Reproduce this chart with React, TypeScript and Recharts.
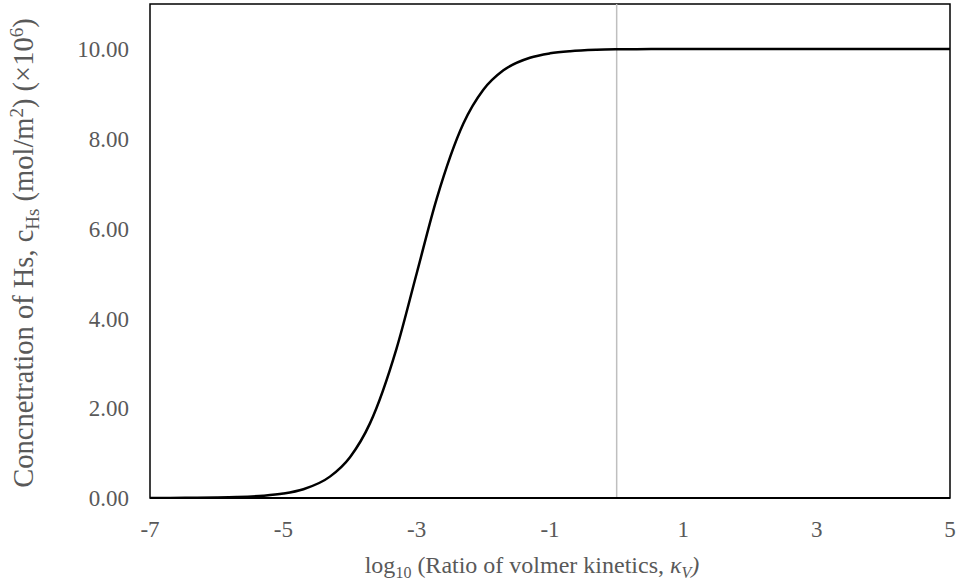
import React from 'react';
import { LineChart, Line, XAxis, YAxis, ReferenceLine, ReferenceArea } from 'recharts';

// log10 of the kinetics ratio (points at 1, 2, 5 x 10^n)
const logKappa = [
  -7, -6.699, -6.301, -6, -5.699, -5.301, -5, -4.699, -4.301, -4, -3.699, -3.301,
  -3, -2.699, -2.301, -2, -1.699, -1.301, -1, -0.699, -0.301, 0, 0.301, 0.699,
  1, 1.301, 1.699, 2, 2.301, 2.699, 3, 3.301, 3.699, 4, 4.301, 4.699, 5,
];
// concentration of Hs (x 10^6 mol/m2)
const cHs = [
  0.001, 0.002, 0.005, 0.01, 0.02, 0.05, 0.099, 0.196, 0.476, 0.909, 1.667, 3.333,
  5.0, 6.667, 8.333, 9.091, 9.524, 9.804, 9.901, 9.95, 9.98, 9.99, 9.995, 9.998,
  9.999, 10, 10, 10, 10, 10, 10, 10, 10, 10, 10, 10, 10,
];
const xTicks = [-7, -5, -3, -1, 1, 3, 5];
const yTicks = [0, 2, 4, 6, 8, 10];

const data = logKappa.map((x, i) => ({ x, c: cHs[i] }));

const FONT = '"Liberation Serif", "Times New Roman", serif';
const GREY = '#595959';

const XTitle = () => (
  <text x={532} y={573} textAnchor="middle" fontFamily={FONT} fontSize={24} fill={GREY}>
    log<tspan fontSize={16} dy={5}>10</tspan>
    <tspan dy={-5}> (Ratio of volmer kinetics, </tspan>
    <tspan fontStyle="italic">κ</tspan>
    <tspan fontStyle="italic" fontSize={16} dy={5}>V</tspan>
    <tspan fontStyle="italic" dy={-5}>)</tspan>
  </text>
);

const YTitle = () => (
  <text
    x={0}
    y={0}
    transform="translate(33, 253) rotate(-90)"
    textAnchor="middle"
    fontFamily={FONT}
    fontSize={28.5}
    fill={GREY}
  >
    Concnetration of Hs, c<tspan fontSize={19} dy={6}>Hs</tspan>
    <tspan dy={-6}> (mol/m</tspan>
    <tspan fontSize={19} dy={-10}>2</tspan>
    <tspan dy={10}>) (×10</tspan>
    <tspan fontSize={19} dy={-10}>6</tspan>
    <tspan dy={10}>)</tspan>
  </text>
);

export default function App() {
  return (
    <div style={{ position: 'absolute', left: 0, top: 0, background: '#fff' }}>
      <LineChart width={959} height={585} data={data} margin={{ top: 4, right: 9, left: 0, bottom: 0 }}>
        <ReferenceArea x1={-7} x2={5} y1={0} y2={11} fill="none" stroke="#000" strokeWidth={1.5} ifOverflow="visible" />
        <ReferenceLine x={0} stroke="#bfbfbf" strokeWidth={1.5} />
        <XAxis
          type="number"
          dataKey="x"
          domain={[-7, 5]}
          ticks={xTicks}
          allowDataOverflow
          height={87}
          axisLine={{ stroke: '#000', strokeWidth: 2 }}
          tickLine={false}
          tickSize={8}
          tickMargin={15}
          tick={{ fill: GREY, fontSize: 23, fontFamily: FONT }}
        />
        <YAxis
          type="number"
          domain={[0, 11]}
          ticks={yTicks}
          allowDataOverflow
          width={150}
          axisLine={false}
          tickLine={false}
          tickSize={13}
          tickMargin={8}
          tickFormatter={(v: number) => v.toFixed(2)}
          tick={{ fill: GREY, fontSize: 23, fontFamily: FONT }}
        />
        <Line
          type="monotone"
          dataKey="c"
          stroke="#000"
          strokeWidth={2.5}
          dot={false}
          isAnimationActive={false}
        />
        <XTitle />
        <YTitle />
      </LineChart>
    </div>
  );
}
